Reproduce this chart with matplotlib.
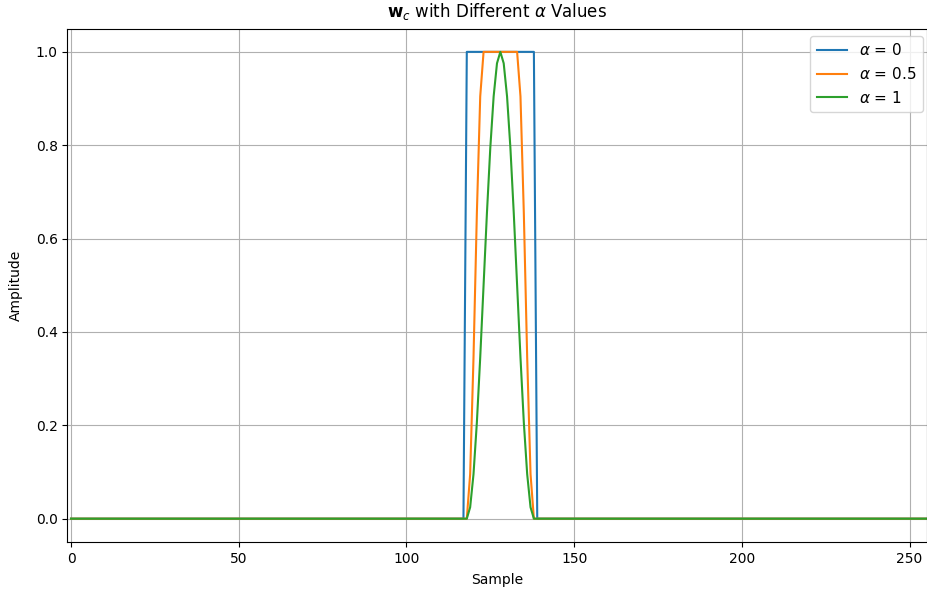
import matplotlib
matplotlib.use("Agg")
import matplotlib.pyplot as plt
import numpy as np

# window length 256, nonzero part starts at sample 118
n_total = 256
start = 118

# values of the nonzero part
w_alpha0 = [1.0] * 21
w_alpha05 = [0.0, 0.0955, 0.3455, 0.6545, 0.9045,
             1.0, 1.0, 1.0, 1.0, 1.0, 1.0, 1.0, 1.0, 1.0, 1.0, 1.0,
             0.9045, 0.6545, 0.3455, 0.0955, 0.0]
w_alpha1 = [0.0, 0.0245, 0.0955, 0.2061, 0.3455, 0.5, 0.6545, 0.7939, 0.9045, 0.9755,
            1.0,
            0.9755, 0.9045, 0.7939, 0.6545, 0.5, 0.3455, 0.2061, 0.0955, 0.0245, 0.0]
labels = [r'$\alpha$ = 0', r'$\alpha$ = 0.5', r'$\alpha$ = 1']

fig = plt.figure(figsize=(9.27, 5.98), dpi=100)
ax = fig.add_axes([0.0728, 0.0936, 0.9272, 0.8587])

for w, lab in zip([w_alpha0, w_alpha05, w_alpha1], labels):
    full = np.zeros(n_total)
    full[start:start + len(w)] = w
    ax.plot(np.arange(n_total), full, label=lab)

ax.set_xlim(-1.05, 255.2)
ax.set_ylim(-0.05, 1.05)
ax.set_title(r'$\mathbf{w}_c$ with Different $\alpha$ Values', fontsize=12, pad=8)
ax.set_xlabel('Sample', labelpad=5)
ax.set_ylabel('Amplitude', labelpad=9)
ax.grid(True)
ax.legend(loc='upper right', fontsize=11, bbox_to_anchor=(1.004, 1.0))

fig.savefig('out.png', dpi=100)
